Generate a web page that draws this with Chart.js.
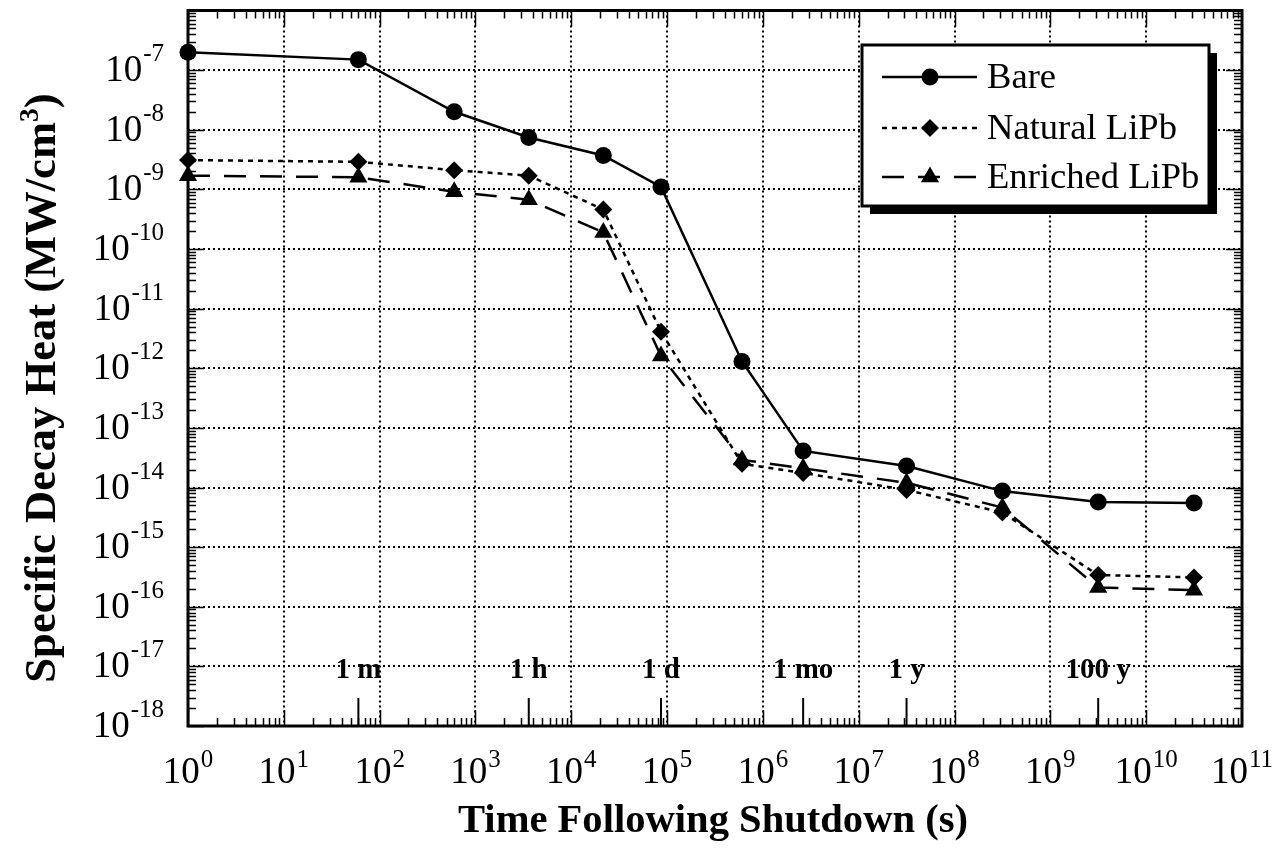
<!DOCTYPE html>
<html>
<head>
<meta charset="utf-8">
<script src="https://cdn.jsdelivr.net/npm/chart.js@4.4.1/dist/chart.umd.min.js"></script>
<style>
  html, body { margin: 0; padding: 0; background: #fff; }
  canvas { display: block; }
</style>
</head>
<body>
<canvas id="decayChart" width="1276" height="849"></canvas>
<script>
// Time after shutdown (s): 1 s, 1 m, 10 m, 1 h, 6 h, 1 d, 1 wk, 1 mo, 1 y, 10 y, 100 y, 1000 y
const timesSec = [1, 60, 600, 3600, 21600, 86400, 604800, 2.63e6, 3.156e7, 3.156e8, 3.156e9, 3.156e10];

// Specific decay heat (MW/cm3)
const bare         = [2.0e-7, 1.5e-7, 2.0e-8, 7.4e-9, 3.7e-9, 1.1e-9, 1.3e-12, 4.1e-14, 2.3e-14, 8.7e-15, 5.7e-15, 5.5e-15];
const naturalLiPb  = [3.1e-9, 2.9e-9, 2.1e-9, 1.7e-9, 4.6e-10, 4.1e-12, 2.5e-14, 1.75e-14, 9.1e-15, 3.8e-15, 3.4e-16, 3.1e-16];
const enrichedLiPb = [1.7e-9, 1.6e-9, 9.1e-10, 6.7e-10, 1.9e-10, 1.6e-12, 2.9e-14, 2.1e-14, 1.2e-14, 4.6e-15, 2.1e-16, 1.9e-16];

const seriesNames = ['Bare', 'Natural LiPb', 'Enriched LiPb'];

// Axis decades (exponents)
const xDecades = [0, 1, 2, 3, 4, 5, 6, 7, 8, 9, 10, 11];
const yDecades = [-18, -17, -16, -15, -14, -13, -12, -11, -10, -9, -8, -7, -6];
const yLabelDecades = [-18, -17, -16, -15, -14, -13, -12, -11, -10, -9, -8, -7];

// Named times marked along the bottom axis
const timeMarks = [60, 3600, 86400, 2.63e6, 3.156e7, 3.156e9];
const timeMarkLabels = ['1 m', '1 h', '1 d', '1 mo', '1 y', '100 y'];

const xTitle = 'Time Following Shutdown (s)';
const yTitle = 'Specific Decay Heat (MW/cm';

const SERIF = '"Liberation Serif", "Times New Roman", serif';
const pow10 = k => Number('1e' + k);

function toPoints(values) {
    return timesSec.map((t, i) => ({ x: t, y: values[i] }));
}

// font size that makes the text as wide as the target
function fitSize(ctx, text, weight, targetWidth) {
    ctx.font = weight + ' 100px ' + SERIF;
    return 100 * targetWidth / ctx.measureText(text).width;
}

// "10" with a raised exponent, anchored by its center or its right end
function drawPowerLabel(ctx, exp, x, baseY, expBaseY, align) {
    const base = '10';
    const sup = String(exp);
    ctx.font = '37px ' + SERIF;
    const wb = ctx.measureText(base).width;
    ctx.font = '25px ' + SERIF;
    const ws = ctx.measureText(sup).width + 1;
    let left = align === 'right' ? x - wb - ws : x - (wb + ws) / 2;
    ctx.textAlign = 'left';
    ctx.textBaseline = 'alphabetic';
    ctx.font = '37px ' + SERIF;
    ctx.fillText(base, left, baseY);
    ctx.font = '25px ' + SERIF;
    ctx.fillText(sup, left + wb + 1, expBaseY);
}

const frameTicks = {
    id: 'frameTicks',
    beforeDatasetsDraw(chart) {
        const { ctx, chartArea: a, scales: { x, y } } = chart;
        ctx.save();
        ctx.strokeStyle = '#000';
        ctx.lineWidth = 1.5;
        ctx.beginPath();
        // log ticks on all four sides, pointing in
        for (let k = xDecades[0]; k < xDecades[xDecades.length - 1]; k++) {
            for (let m = 1; m < 10; m++) {
                const px = Math.round(x.getPixelForValue(m * pow10(k))) + 0.5;
                const len = m === 1 ? 16 : 8;
                ctx.moveTo(px, a.bottom); ctx.lineTo(px, a.bottom - len);
                ctx.moveTo(px, a.top); ctx.lineTo(px, a.top + len);
            }
        }
        for (let k = yDecades[0]; k < yDecades[yDecades.length - 1]; k++) {
            for (let m = 1; m < 10; m++) {
                const py = Math.round(y.getPixelForValue(m * pow10(k))) + 0.5;
                const len = m === 1 ? 16 : 8;
                ctx.moveTo(a.left, py); ctx.lineTo(a.left + len, py);
                ctx.moveTo(a.right, py); ctx.lineTo(a.right - len, py);
            }
        }
        ctx.stroke();

        // long ticks at the named times
        ctx.lineWidth = 2;
        ctx.beginPath();
        timeMarks.forEach(t => {
            const px = x.getPixelForValue(t);
            ctx.moveTo(px, a.bottom); ctx.lineTo(px, a.bottom - 28);
        });
        ctx.stroke();

        ctx.lineWidth = 3;
        ctx.strokeRect(a.left, a.top, a.right - a.left, a.bottom - a.top);
        ctx.restore();
    }
};

const textAndLegend = {
    id: 'textAndLegend',
    afterDraw(chart) {
        const { ctx, chartArea: a, scales: { x, y } } = chart;
        ctx.save();
        ctx.fillStyle = '#000';

        // tick labels
        xDecades.forEach(k => {
            drawPowerLabel(ctx, k, x.getPixelForValue(pow10(k)), 783, 767, 'center');
        });
        yLabelDecades.forEach(k => {
            const py = y.getPixelForValue(pow10(k));
            drawPowerLabel(ctx, k, 164, py + 11, py - 9, 'right');
        });

        // named times
        ctx.font = 'bold 29px ' + SERIF;
        ctx.textAlign = 'center';
        ctx.textBaseline = 'alphabetic';
        const labelY = y.getPixelForValue(pow10(-17)) + 12;
        timeMarks.forEach((t, i) => {
            ctx.fillText(timeMarkLabels[i], x.getPixelForValue(t), labelY);
        });

        // x title
        const xs = fitSize(ctx, xTitle, 'bold', 510);
        ctx.font = 'bold ' + xs + 'px ' + SERIF;
        ctx.textAlign = 'center';
        ctx.fillText(xTitle, 713, 832);

        // y title, with a superscript 3
        ctx.save();
        ctx.translate(55, 388);
        ctx.rotate(-Math.PI / 2);
        const ys = fitSize(ctx, yTitle + '3)', 'bold', 598);
        ctx.font = 'bold ' + ys + 'px ' + SERIF;
        const w1 = ctx.measureText(yTitle).width;
        const wp = ctx.measureText(')').width;
        ctx.font = 'bold ' + (ys * 0.62) + 'px ' + SERIF;
        const w3 = ctx.measureText('3').width;
        const total = w1 + w3 + wp;
        let left = -total / 2;
        ctx.textAlign = 'left';
        ctx.font = 'bold ' + ys + 'px ' + SERIF;
        ctx.fillText(yTitle, left, 0);
        ctx.font = 'bold ' + (ys * 0.62) + 'px ' + SERIF;
        ctx.fillText('3', left + w1, -ys * 0.38);
        ctx.font = 'bold ' + ys + 'px ' + SERIF;
        ctx.fillText(')', left + w1 + w3, 0);
        ctx.restore();

        // legend box with a drop shadow
        const box = { l: 862, t: 45, r: 1209, b: 206 };
        ctx.fillStyle = '#000';
        ctx.fillRect(box.l + 8, box.t + 8, box.r - box.l, box.b - box.t);
        ctx.fillStyle = '#fff';
        ctx.fillRect(box.l, box.t, box.r - box.l, box.b - box.t);
        ctx.strokeStyle = '#000';
        ctx.lineWidth = 3;
        ctx.strokeRect(box.l, box.t, box.r - box.l, box.b - box.t);

        const rows = [77, 128, 177];
        const ls = fitSize(ctx, 'Natural LiPb', 'normal', 190);
        chart.data.datasets.forEach((ds, i) => {
            const ry = rows[i];
            ctx.save();
            ctx.strokeStyle = '#000';
            ctx.lineWidth = ds.borderWidth;
            ctx.setLineDash(ds.borderDash || []);
            ctx.beginPath();
            ctx.moveTo(882, ry);
            ctx.lineTo(977, ry);
            ctx.stroke();
            ctx.restore();
            ctx.fillStyle = '#000';
            Chart.helpers.drawPoint(ctx, {
                pointStyle: ds.pointStyle, radius: ds.pointRadius, rotation: 0, borderWidth: 0
            }, 930, ry);
            ctx.font = ls + 'px ' + SERIF;
            ctx.textAlign = 'left';
            ctx.textBaseline = 'alphabetic';
            ctx.fillText(ds.label, 987, ry + 11);
        });
        ctx.restore();
    }
};

function makeDataset(label, values, style, radius, dash, order) {
    return {
        label: label,
        data: toPoints(values),
        borderColor: '#000',
        backgroundColor: '#000',
        borderWidth: 2.5,
        borderDash: dash,
        pointStyle: style,
        pointRadius: radius,
        pointBackgroundColor: '#000',
        pointBorderColor: '#000',
        pointBorderWidth: 0,
        tension: 0,
        fill: false,
        clip: false,
        order: order
    };
}

const gridOpts = { color: '#000', lineWidth: 2, drawTicks: false };

new Chart(document.getElementById('decayChart'), {
    type: 'line',
    data: {
        datasets: [
            makeDataset(seriesNames[0], bare, 'circle', 8.5, [], 0),
            makeDataset(seriesNames[1], naturalLiPb, 'rectRot', 9, [5, 5], 2),
            makeDataset(seriesNames[2], enrichedLiPb, 'triangle', 10.5, [22, 14], 1)
        ]
    },
    options: {
        responsive: false,
        animation: false,
        devicePixelRatio: 1,
        layout: { padding: { left: 188, top: 9, right: 34, bottom: 123 } },
        plugins: {
            legend: { display: false },
            tooltip: { enabled: false },
            title: { display: false }
        },
        scales: {
            x: {
                type: 'logarithmic',
                min: pow10(xDecades[0]),
                max: pow10(xDecades[xDecades.length - 1]),
                afterBuildTicks: s => { s.ticks = xDecades.map(k => ({ value: pow10(k) })); },
                afterFit: s => { s.height = 0; },
                ticks: { display: false },
                grid: gridOpts,
                border: { display: false, dash: [2, 3] }
            },
            y: {
                type: 'logarithmic',
                min: pow10(yDecades[0]),
                max: pow10(yDecades[yDecades.length - 1]),
                afterBuildTicks: s => { s.ticks = yDecades.map(k => ({ value: pow10(k) })); },
                afterFit: s => { s.width = 0; },
                ticks: { display: false },
                grid: gridOpts,
                border: { display: false, dash: [2, 3] }
            }
        }
    },
    plugins: [frameTicks, textAndLegend]
});
</script>
</body>
</html>
